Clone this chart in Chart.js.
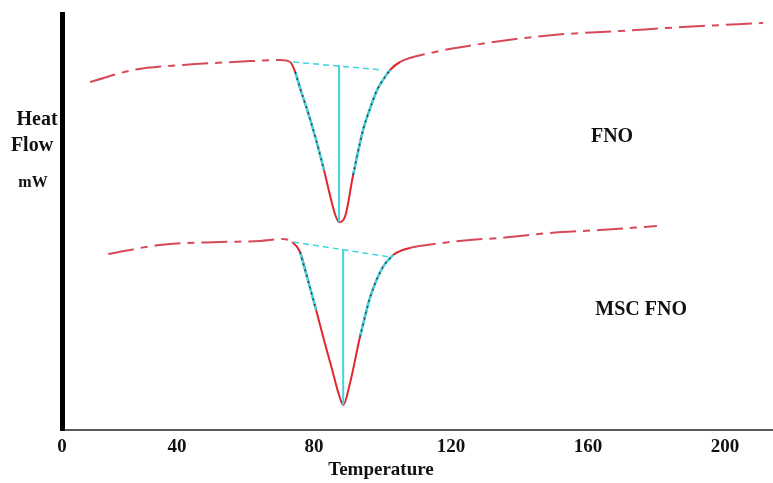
<!DOCTYPE html>
<html>
<head>
<meta charset="utf-8">
<script src="https://cdn.jsdelivr.net/npm/chart.js@4.4.1/dist/chart.umd.min.js"></script>
<style>
  html, body { margin: 0; padding: 0; background: #ffffff; }
  #wrap { width: 773px; height: 483px; position: relative; }
</style>
</head>
<body>
<div id="wrap"><canvas id="dscChart"></canvas></div>
<script>
// FNO curve (temperature, heat flow in arbitrary mW units)
const fnoTemp = [14.6, 27.2, 41.8, 62.2, 70.1, 73.0, 74.5, 75.9, 78.2, 80.6, 82.9, 84.7, 86.1, 87.3, 89.1, 91.4, 94.3, 96.4, 98.4, 100.7, 102.2, 105.1, 113.9, 130.5, 149.8, 169.3, 187.7, 211.1];
const fnoFlow = [3.48, 3.60, 3.65, 3.69, 3.70, 3.68, 3.58, 3.42, 3.18, 2.90, 2.60, 2.34, 2.16, 2.08, 2.14, 2.55, 3.00, 3.22, 3.40, 3.53, 3.60, 3.68, 3.77, 3.87, 3.95, 3.99, 4.03, 4.07];

// MSC FNO curve
const mscTemp = [19.9, 35.0, 52.6, 64.2, 70.7, 73.6, 75.9, 78.2, 80.6, 82.9, 85.3, 87.3, 88.5, 90.5, 93.4, 96.4, 100.1, 103.1, 108.0, 113.0, 125.5, 134.3, 148.9, 163.5, 180.1];
const mscFlow = [1.76, 1.85, 1.88, 1.89, 1.91, 1.88, 1.78, 1.50, 1.20, 0.90, 0.60, 0.35, 0.25, 0.47, 0.93, 1.33, 1.63, 1.75, 1.82, 1.85, 1.90, 1.92, 1.97, 2.00, 2.04];

// peak construction lines (baseline + peak drop)
const fnoBaseTemp = [73.9, 100.1];
const fnoBaseFlow = [3.68, 3.60];
const fnoPeakTemp = [87.3, 87.3];
const fnoPeakFlow = [3.65, 2.08];
const mscBaseTemp = [73.9, 102.2];
const mscBaseFlow = [1.88, 1.73];
const mscPeakTemp = [88.5, 88.5];
const mscPeakFlow = [1.81, 0.25];

// x axis: drawn origin is labelled 0
const tickValues = [6.4, 40, 80, 120, 160, 200];
const tickLabels = ["0", "40", "80", "120", "160", "200"];

const curveLabels = ["FNO", "MSC FNO"];
const curveLabelTemp = [167, 175.5];
const curveLabelFlow = [2.93, 1.20];

function toPoints(xs, ys) {
  return xs.map((x, i) => ({ x: x, y: ys[i] }));
}

function sidePoints(xs, ys, from, to) {
  return toPoints(xs, ys).filter((p) => p.x >= from && p.x <= to);
}

const redDash = [26, 7, 7, 7];

function curveSegment(dipFrom, dipTo) {
  return {
    borderDash: (ctx) => {
      var a = ctx.p0.parsed.x;
      var b = ctx.p1.parsed.x;
      return a >= dipFrom && b <= dipTo ? [] : redDash;
    },
    borderColor: (ctx) => {
      var a = ctx.p0.parsed.x;
      var b = ctx.p1.parsed.x;
      return a >= dipFrom && b <= dipTo ? "#e0262e" : "#d64a58";
    },
  };
}

function lineSet(points, color, width, dash, smooth) {
  return {
    data: points,
    borderColor: color,
    borderWidth: width,
    borderDash: dash,
    pointRadius: 0,
    fill: false,
    cubicInterpolationMode: smooth ? "monotone" : "default",
    tension: 0,
  };
}

const textPlugin = {
  id: "dscText",
  afterDraw(chart) {
    var ctx = chart.ctx;
    var xs = chart.scales.x;
    var ys = chart.scales.y;
    ctx.save();
    ctx.fillStyle = "#111111";
    ctx.textBaseline = "middle";
    ctx.textAlign = "center";
    ctx.font = "bold 20px 'Liberation Serif', serif";
    ctx.fillText("Heat", 37, 120);
    ctx.fillText("Flow", 32, 146);
    ctx.font = "bold 16px 'Liberation Serif', serif";
    ctx.fillText("mW", 33, 183);
    ctx.font = "bold 20px 'Liberation Serif', serif";
    for (var i = 0; i < curveLabels.length; i++) {
      ctx.fillText(curveLabels[i], xs.getPixelForValue(curveLabelTemp[i]), ys.getPixelForValue(curveLabelFlow[i]));
    }
    ctx.font = "bold 19px 'Liberation Serif', serif";
    ctx.fillText("Temperature", 381, 470);
    ctx.restore();
  },
};

const cyan = "#3fd6df";
const dots = "#3a3a48";

new Chart(document.getElementById("dscChart"), {
  type: "line",
  data: {
    datasets: [
      // side overlays first so they sit on top of the red curves
      lineSet(sidePoints(fnoTemp, fnoFlow, 74.5, 82.9), dots, 1.5, [2, 4], true),
      lineSet(sidePoints(fnoTemp, fnoFlow, 91.4, 102.2), dots, 1.5, [2, 4], true),
      lineSet(sidePoints(mscTemp, mscFlow, 75.9, 80.6), dots, 1.5, [2, 4], true),
      lineSet(sidePoints(mscTemp, mscFlow, 93.4, 103.1), dots, 1.5, [2, 4], true),
      lineSet(sidePoints(fnoTemp, fnoFlow, 74.5, 82.9), cyan, 2.5, [], true),
      lineSet(sidePoints(fnoTemp, fnoFlow, 91.4, 102.2), cyan, 2.5, [], true),
      lineSet(sidePoints(mscTemp, mscFlow, 75.9, 80.6), cyan, 2.5, [], true),
      lineSet(sidePoints(mscTemp, mscFlow, 93.4, 103.1), cyan, 2.5, [], true),
      lineSet(toPoints(fnoBaseTemp, fnoBaseFlow), cyan, 1.5, [6, 4]),
      lineSet(toPoints(fnoPeakTemp, fnoPeakFlow), cyan, 2, []),
      lineSet(toPoints(mscBaseTemp, mscBaseFlow), cyan, 1.5, [6, 4]),
      lineSet(toPoints(mscPeakTemp, mscPeakFlow), cyan, 2, []),
      {
        data: toPoints(fnoTemp, fnoFlow),
        borderWidth: 2,
        pointRadius: 0,
        cubicInterpolationMode: "monotone",
        segment: curveSegment(73.0, 105.1),
      },
      {
        data: toPoints(mscTemp, mscFlow),
        borderWidth: 2,
        pointRadius: 0,
        cubicInterpolationMode: "monotone",
        segment: curveSegment(73.6, 108.0),
      },
    ],
  },
  options: {
    responsive: true,
    maintainAspectRatio: false,
    animation: false,
    layout: { padding: { left: 62, right: 0, top: 14, bottom: 0 } },
    plugins: {
      legend: { display: false },
      tooltip: { enabled: false },
    },
    scales: {
      x: {
        type: "linear",
        min: 6.4,
        max: 214,
        grid: { display: false, drawTicks: false },
        border: { display: true, color: "#5a5a5a", width: 2 },
        afterBuildTicks: (scale) => {
          scale.ticks = tickValues.map((v) => ({ value: v }));
        },
        afterFit: (scale) => {
          scale.height = 53;
        },
        ticks: {
          padding: 6,
          maxRotation: 0,
          autoSkip: false,
          color: "#111111",
          font: { family: "'Liberation Serif', serif", size: 19, weight: "bold" },
          callback: (value, index) => tickLabels[index],
        },
      },
      y: {
        type: "linear",
        min: 0,
        max: 4.16,
        grid: { display: false, drawTicks: false },
        border: { display: true, color: "#000000", width: 5 },
        ticks: { display: false },
        afterFit: (scale) => {
          scale.width = 0;
        },
      },
    },
  },
  plugins: [textPlugin],
});
</script>
</body>
</html>
